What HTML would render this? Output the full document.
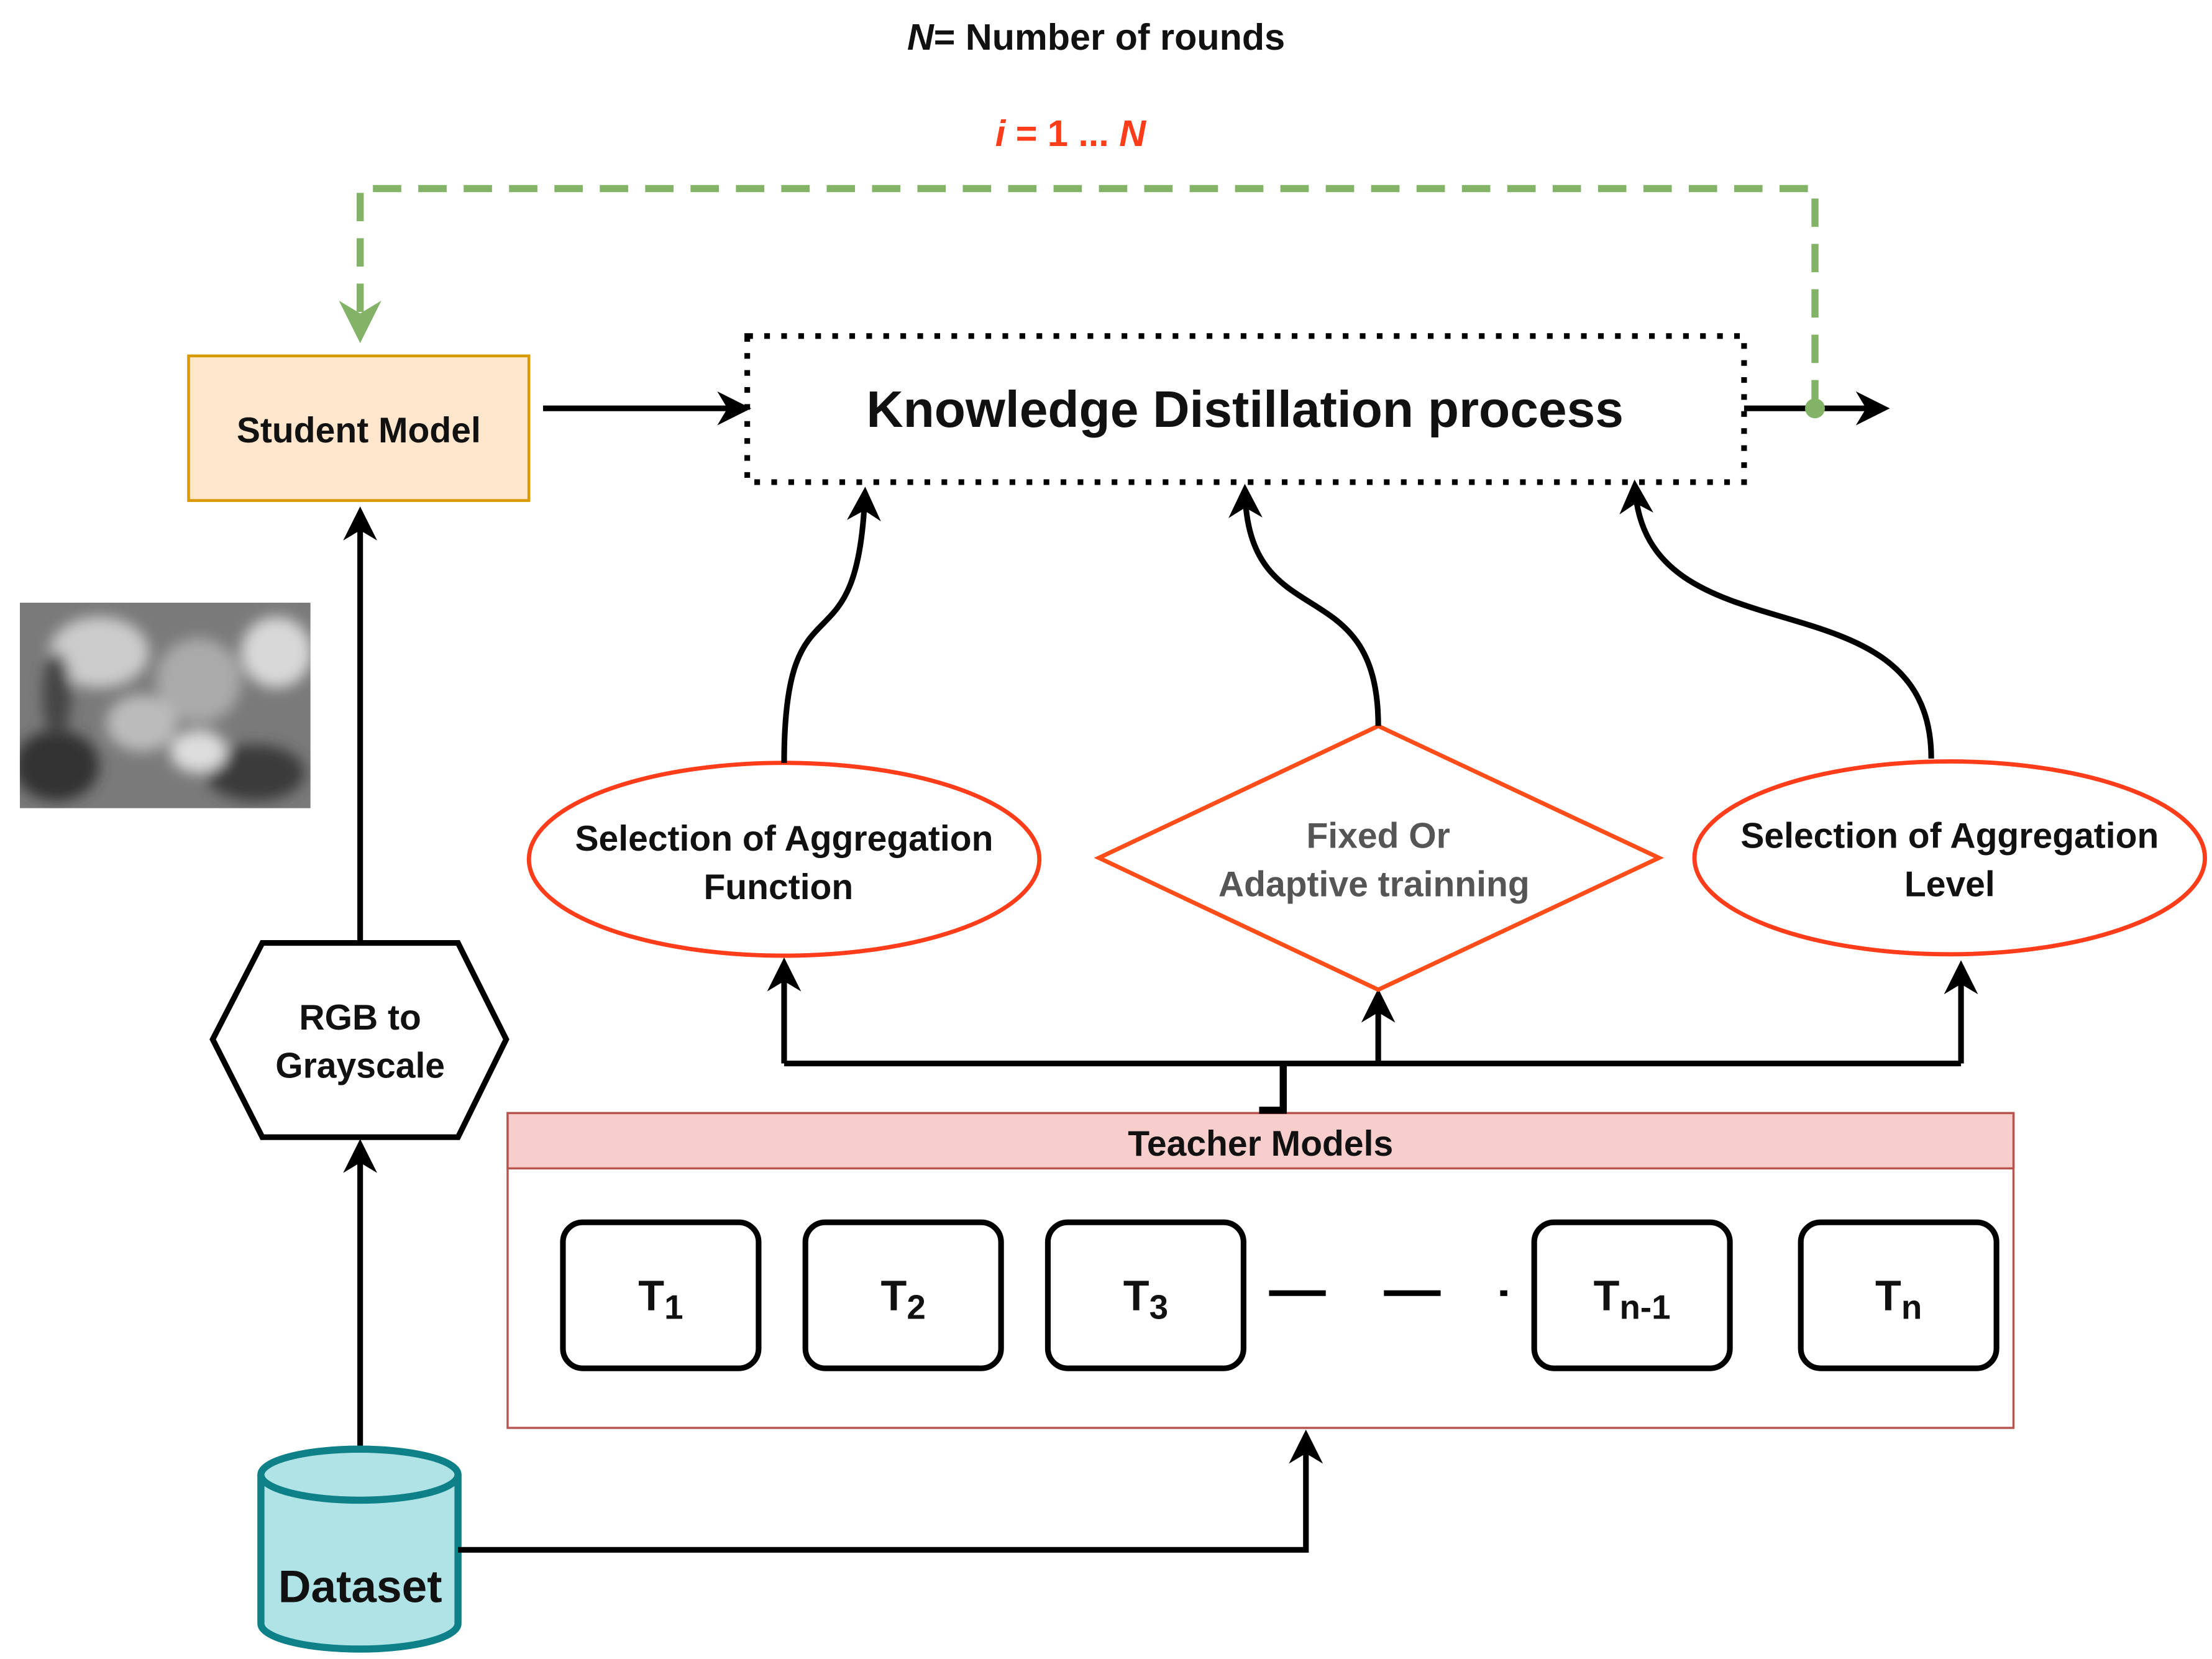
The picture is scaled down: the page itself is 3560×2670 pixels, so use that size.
<!DOCTYPE html>
<html><head><meta charset="utf-8"><style>html,body{margin:0;padding:0;background:#fff}svg{display:block}</style></head>
<body>
<svg width="3560" height="2670" viewBox="0 0 1560 1170" xmlns="http://www.w3.org/2000/svg" font-family="Liberation Sans, sans-serif">
<defs>
<marker id="a" viewBox="0 0 10 10" refX="9" refY="5" markerWidth="7" markerHeight="7" markerUnits="userSpaceOnUse" orient="auto"><path d="M0,0 L10,5 L0,10 L3,5 Z" fill="#000"/></marker>
<marker id="ak" viewBox="0 0 10 10" refX="8" refY="5" markerWidth="6" markerHeight="6" orient="auto"><path d="M0,0 L10,5 L0,10 L3,5 Z" fill="#000"/></marker>
<marker id="g" viewBox="0 0 10 10" refX="8" refY="5" markerWidth="6" markerHeight="6" orient="auto"><path d="M0,0 L10,5 L0,10 L3,5 Z" fill="#82b366"/></marker>
<filter id="bl"><feGaussianBlur stdDeviation="5"/></filter>
<clipPath id="cl"><rect x="14" y="425" width="205" height="145"/></clipPath>
</defs>
<text x="773" y="35" text-anchor="middle" font-size="26" font-weight="bold" fill="#111"><tspan font-style="italic">N</tspan>= Number of rounds</text>
<text x="755" y="103" text-anchor="middle" font-size="26" font-weight="bold" fill="#ff3d1a"><tspan font-style="italic">i</tspan> = 1 ... <tspan font-style="italic">N</tspan></text>
<path d="M1280,288 V133 H254 V236" fill="none" stroke="#82b366" stroke-width="5" stroke-dasharray="20,12" marker-end="url(#g)"/>
<rect x="133" y="251" width="240" height="102" fill="#ffe6cc" stroke="#d79b00" stroke-width="2"/>
<text x="253" y="312" text-anchor="middle" font-size="25" font-weight="bold" fill="#111">Student Model</text>
<line x1="383" y1="288" x2="525" y2="288" stroke="#000" stroke-width="4" marker-end="url(#ak)"/>
<rect x="527" y="237" width="703" height="103" fill="none" stroke="#000" stroke-width="4" stroke-dasharray="4,8"/>
<text x="878" y="301" text-anchor="middle" font-size="36" font-weight="bold" fill="#111">Knowledge Distillation process</text>
<line x1="1230" y1="288" x2="1328" y2="288" stroke="#000" stroke-width="4" marker-end="url(#ak)"/>
<circle cx="1280" cy="288" r="7" fill="#82b366"/>
<g clip-path="url(#cl)">
<rect x="14" y="425" width="205" height="145" fill="#7a7a7a"/>
<g filter="url(#bl)">
<ellipse cx="70" cy="460" rx="35" ry="25" fill="#ccc"/><ellipse cx="140" cy="480" rx="30" ry="30" fill="#aaa"/>
<ellipse cx="195" cy="460" rx="25" ry="25" fill="#d8d8d8"/><ellipse cx="100" cy="510" rx="25" ry="20" fill="#bbb"/>
<ellipse cx="40" cy="540" rx="30" ry="25" fill="#333"/><ellipse cx="180" cy="545" rx="35" ry="20" fill="#3a3a3a"/>
<ellipse cx="140" cy="530" rx="20" ry="15" fill="#ddd"/><ellipse cx="40" cy="490" rx="10" ry="30" fill="#444"/>
</g></g>
<line x1="254" y1="665" x2="254" y2="362" stroke="#000" stroke-width="4" marker-end="url(#ak)"/>
<polygon points="150,733 185,665 323,665 357,733 323,802 185,802" fill="#fff" stroke="#000" stroke-width="4"/>
<text x="254" y="726" text-anchor="middle" font-size="25" font-weight="bold" fill="#111">RGB  to</text>
<text x="254" y="760" text-anchor="middle" font-size="25" font-weight="bold" fill="#111">Grayscale</text>
<line x1="254" y1="1022" x2="254" y2="808" stroke="#000" stroke-width="4" marker-end="url(#ak)"/>
<path d="M184,1040 V1145 A69.5,18 0 0 0 323,1145 V1040" fill="#b0e3e6" stroke="#0e8088" stroke-width="5"/>
<ellipse cx="253.5" cy="1040" rx="69.5" ry="18" fill="#b0e3e6" stroke="#0e8088" stroke-width="5"/>
<text x="254" y="1130" text-anchor="middle" font-size="32" font-weight="bold" fill="#111">Dataset</text>
<path d="M323,1093 H921 V1013" fill="none" stroke="#000" stroke-width="4" marker-end="url(#ak)"/>
<rect x="358" y="785" width="1062" height="222" fill="#fff" stroke="#b85450" stroke-width="1.5"/>
<rect x="358" y="785" width="1062" height="39" fill="#f8cecc" stroke="#b85450" stroke-width="1.5"/>
<text x="889" y="815" text-anchor="middle" font-size="25" font-weight="bold" fill="#111">Teacher  Models</text>
<g fill="#fff" stroke="#000" stroke-width="4">
<rect x="397" y="862" width="138" height="103" rx="14"/><rect x="568" y="862" width="138" height="103" rx="14"/>
<rect x="739" y="862" width="138" height="103" rx="14"/><rect x="1082" y="862" width="138" height="103" rx="14"/>
<rect x="1270" y="862" width="138" height="103" rx="14"/>
</g>
<g font-size="30" font-weight="bold" fill="#111" text-anchor="middle">
<text x="466" y="924">T<tspan font-size="24" dy="6">1</tspan></text>
<text x="637" y="924">T<tspan font-size="24" dy="6">2</tspan></text>
<text x="808" y="924">T<tspan font-size="24" dy="6">3</tspan></text>
<text x="1151" y="924">T<tspan font-size="24" dy="6">n-1</tspan></text>
<text x="1339" y="924">T<tspan font-size="24" dy="6">n</tspan></text>
</g>
<g stroke="#000" stroke-width="4"><line x1="895" y1="912" x2="935" y2="912"/><line x1="976" y1="912" x2="1016" y2="912"/><line x1="1058" y1="912" x2="1063" y2="912"/></g>
<path d="M888,783 H905 V750" fill="none" stroke="#000" stroke-width="5"/>
<path d="M553,750 H1383" fill="none" stroke="#000" stroke-width="4"/>
<line x1="553" y1="750" x2="553" y2="680" stroke="#000" stroke-width="4" marker-end="url(#ak)"/>
<line x1="972" y1="750" x2="972" y2="702" stroke="#000" stroke-width="4" marker-end="url(#ak)"/>
<line x1="1383" y1="750" x2="1383" y2="682" stroke="#000" stroke-width="4" marker-end="url(#ak)"/>
<ellipse cx="553" cy="606" rx="180" ry="68" fill="#fff" stroke="#ff3d1a" stroke-width="3"/>
<ellipse cx="1375" cy="605" rx="180" ry="68" fill="#fff" stroke="#ff3d1a" stroke-width="3"/>
<polygon points="775,605 972,512 1170,605 972,698" fill="#fff" stroke="#ff4d1a" stroke-width="3"/>
<g font-size="25" font-weight="bold" text-anchor="middle">
<text x="553" y="600" fill="#111">Selection of Aggregation</text><text x="549" y="634" fill="#111">Function</text>
<text x="1375" y="598" fill="#111">Selection of Aggregation</text><text x="1375" y="632" fill="#111">Level</text>
<text x="972" y="598" fill="#555">Fixed Or</text><text x="969" y="632" fill="#555">Adaptive trainning</text>
</g>
<path d="M553,538 C553,400 605,480 610,348" fill="none" stroke="#000" stroke-width="4" marker-end="url(#ak)"/>
<path d="M972,512 C972,400 880,450 878,346" fill="none" stroke="#000" stroke-width="4" marker-end="url(#ak)"/>
<path d="M1362,535 C1362,400 1160,470 1153,343" fill="none" stroke="#000" stroke-width="4" marker-end="url(#ak)"/>
</svg>
</body></html>
